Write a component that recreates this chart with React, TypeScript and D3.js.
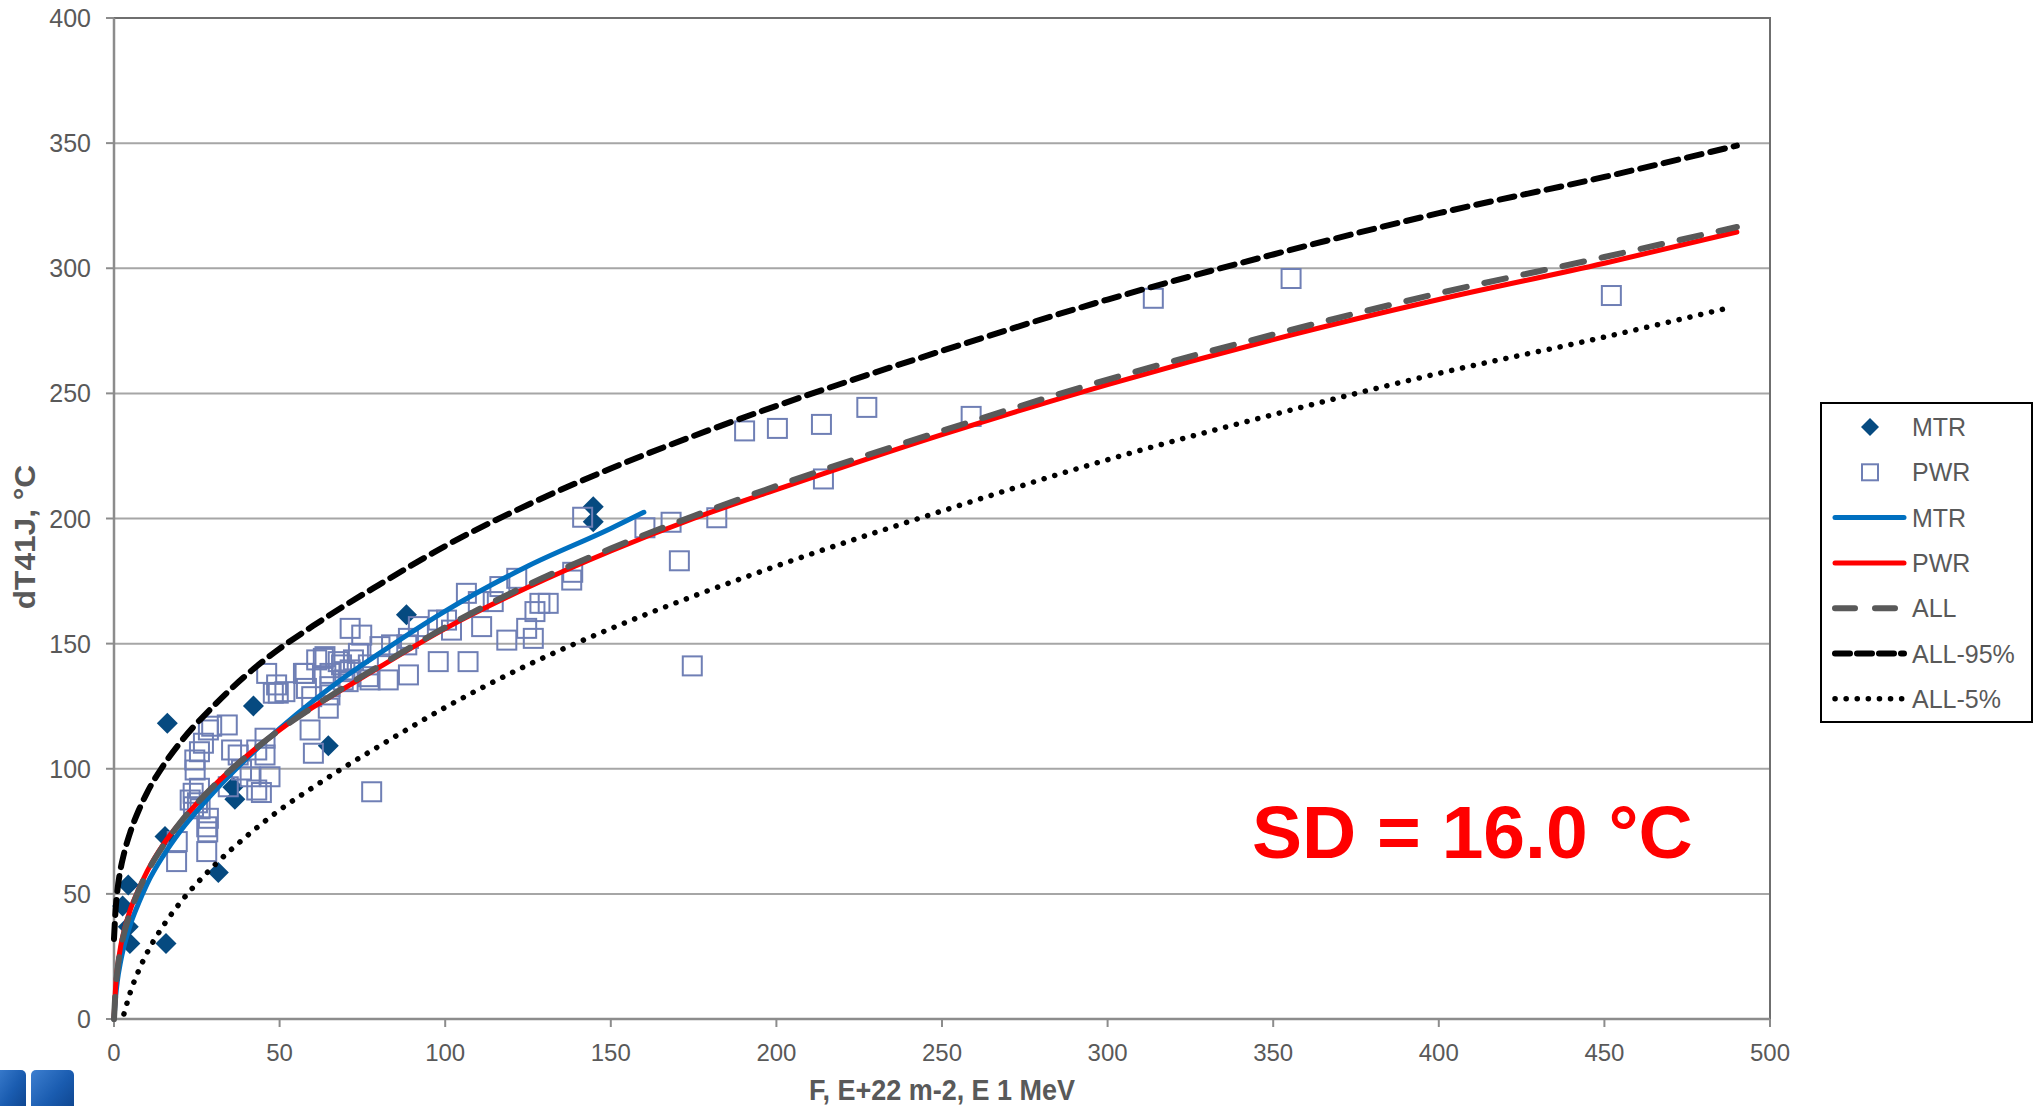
import React from 'react';
import * as d3 from 'd3';

const xTicks = [0, 50, 100, 150, 200, 250, 300, 350, 400, 450, 500];
const yTicks = [0, 50, 100, 150, 200, 250, 300, 350, 400];

// MTR measurements (F, dT41J)
const mtrData: [number, number][] = [
  [2.6, 45.2], [4.3, 53.5], [4.3, 36.9], [4.8, 30.2], [15.4, 72.9], [15.7, 30.2],
  [16.1, 118.2], [31.5, 58.5], [35.9, 92.6], [36.5, 87.8], [42.1, 125.1], [64.7, 109.2],
  [88.3, 161.5], [144.7, 204.7], [144.7, 198.7],
];

// PWR measurements (F, dT41J)
const pwrData: [number, number][] = [
  [19.1, 70.9], [18.9, 62.9], [28.5, 115.5], [34.2, 117.5], [29.5, 117.0], [25.8, 106.8],
  [24.5, 99.5], [25.8, 92.2], [25.2, 86.4], [26.0, 84.0], [28.5, 80.2], [28.0, 76.8],
  [28.3, 74.8], [28.0, 66.9], [35.5, 107.5], [37.5, 105.5], [43.1, 107.5], [45.6, 112.2],
  [45.6, 105.5], [38.5, 99.5], [41.1, 96.8], [47.1, 96.8], [43.1, 91.5], [44.5, 90.5],
  [34.5, 92.8], [23.0, 87.5], [24.0, 84.8], [24.4, 103.5], [27.0, 110.2], [23.9, 90.2],
  [46.1, 138.1], [48.1, 130.2], [49.6, 130.2], [51.6, 130.8], [57.2, 138.1], [63.2, 144.1],
  [68.7, 141.5], [71.3, 156.1], [74.8, 153.4], [65.2, 138.1], [67.7, 142.8], [69.7, 138.8],
  [65.2, 132.8], [70.7, 134.8], [73.8, 146.1], [76.8, 141.5], [76.8, 136.8], [82.8, 135.5],
  [88.9, 137.5], [80.3, 148.8], [83.8, 149.5], [88.4, 149.5], [88.9, 152.1], [91.9, 156.8],
  [97.9, 159.4], [100.4, 159.4], [101.9, 155.4], [97.9, 142.8], [106.9, 142.8], [106.4, 170.1],
  [110.0, 166.8], [111.0, 156.8], [114.5, 166.8], [116.5, 172.8], [121.6, 176.1], [118.6, 151.4],
  [124.6, 156.1], [126.6, 152.1], [127.1, 162.8], [128.6, 166.1], [131.1, 166.1], [138.2, 175.4],
  [138.5, 178.5], [59.2, 115.5], [60.2, 106.2], [64.7, 124.2], [59.7, 128.8], [65.2, 129.5],
  [77.8, 90.8], [49.1, 133.5], [63.7, 144.8], [72.3, 143.5], [71.3, 139.5], [57.7, 138.1],
  [77.3, 135.5], [69.2, 135.5], [58.1, 132.1], [61.2, 143.5],
  [141.5, 200.5], [160.3, 196.3], [168.2, 198.5], [170.7, 183.1], [182.0, 200.3], [174.6, 141.1],
  [214.2, 215.8], [190.4, 235.0], [200.3, 236.0], [213.6, 237.6], [227.3, 244.4], [258.8, 240.8],
  [313.8, 288.0], [355.4, 295.9], [452.1, 289.1],
];

// fitted trends
const fitF = [0, 0.5, 1, 2, 3, 5, 7.5, 10, 15, 20, 30, 40, 50, 60, 70, 80, 100, 125, 150, 175, 200, 250, 300, 350, 400, 450, 490];
const allFit = [0, 12, 19, 28, 34, 43, 51.5, 58.5, 69.5, 78.5, 93, 105, 115.5, 124.5, 133, 141, 156.5, 173.5, 188, 201, 213, 235, 255.5, 273.5, 290, 304.5, 316.5];
const pwrFit = [0, 13, 20, 29, 35, 44, 52, 59, 70, 78.5, 93, 105, 115.5, 124.5, 132.5, 140.5, 156, 172.5, 187, 200, 211.5, 233.5, 253.5, 271.5, 287.5, 302, 314.5];
const all95Fit = [32, 44, 51, 60, 66, 75, 83.5, 90.5, 101.5, 110.5, 125, 137.5, 148, 157, 165.5, 173.5, 189, 205.5, 220, 233, 245, 267, 287.5, 305.5, 322, 336.5, 349];

const mtrFitF = [0, 0.5, 1, 2, 3, 5, 7.5, 10, 15, 20, 30, 40, 50, 60, 70, 80, 100, 125, 150, 160];
const mtrFit = [0, 9, 15, 23, 29, 38, 46.5, 54, 65.5, 75, 90.5, 104, 116, 127, 137, 146, 163, 181, 196, 202.5];

const all5F = [3, 5, 7.5, 10, 15, 20, 30, 40, 50, 60, 70, 80, 100, 125, 150, 175, 200, 250, 300, 350, 400, 450, 487];
const all5Fit = [2, 11, 19.5, 26.5, 37.5, 46.5, 61, 73, 83.5, 92.5, 101, 109, 124.5, 141.5, 156, 169, 181, 203, 223.5, 241.5, 258, 272.5, 284];

const FONT = '"Liberation Sans", Arial, sans-serif';
const TEXT = '#595959';

const styles = {
  mtrLine: { stroke: '#0070C0', width: 5, dash: undefined as string | undefined },
  pwrLine: { stroke: '#FF0000', width: 5, dash: undefined as string | undefined },
  all: { stroke: '#595959', width: 6, dash: '22 18' },
  all95: { stroke: '#000000', width: 6, dash: '15 9' },
  all5: { stroke: '#000000', width: 5.5, dash: '0.1 11' },
};

const legendItems = [
  { label: 'MTR', kind: 'diamond' },
  { label: 'PWR', kind: 'square' },
  { label: 'MTR', kind: 'mtrLine' },
  { label: 'PWR', kind: 'pwrLine' },
  { label: 'ALL', kind: 'all' },
  { label: 'ALL-95%', kind: 'all95' },
  { label: 'ALL-5%', kind: 'all5' },
];

const diamond = (cx: number, cy: number, r: number) =>
  `M${cx},${cy - r}L${cx + r},${cy}L${cx},${cy + r}L${cx - r},${cy}Z`;

export default function App() {
  const width = 2041;
  const height = 1106;
  const plot = { left: 114, right: 1770, top: 18, bottom: 1019 };

  const x = d3.scaleLinear().domain([0, 500]).range([plot.left, plot.right]);
  const y = d3.scaleLinear().domain([0, 400]).range([plot.bottom, plot.top]);

  const line = d3
    .line<[number, number]>()
    .x(d => x(d[0]))
    .y(d => y(d[1]))
    .curve(d3.curveMonotoneX);

  const zip = (fs: number[], vs: number[]) => fs.map((f, i) => [f, vs[i]] as [number, number]);

  const curves = [
    { key: 'mtrLine', d: line(zip(mtrFitF, mtrFit)) },
    { key: 'pwrLine', d: line(zip(fitF, pwrFit)) },
    { key: 'all', d: line(zip(fitF, allFit)) },
    { key: 'all95', d: line(zip(fitF, all95Fit)) },
    { key: 'all5', d: line(zip(all5F, all5Fit)) },
  ];

  const sq = 19;
  const legend = { x: 1821, y: 403, w: 211, h: 319, row0: 427, step: 45.3 };

  return (
    <svg
      width={width}
      height={height}
      viewBox={`0 0 ${width} ${height}`}
      style={{ position: 'absolute', left: 0, top: 0, background: '#fff' }}
      fontFamily={FONT}
    >
      <defs>
        <linearGradient id="logoGrad" x1="0" y1="0" x2="1" y2="1">
          <stop offset="0" stopColor="#3d7fd0" />
          <stop offset="0.5" stopColor="#1a5cb0" />
          <stop offset="1" stopColor="#0b3f86" />
        </linearGradient>
      </defs>
      <rect width={width} height={height} fill="#fff" />

      {/* gridlines */}
      {yTicks.map(t => (
        <line key={`g${t}`} x1={plot.left} x2={plot.right} y1={y(t)} y2={y(t)} stroke="#a6a6a6" strokeWidth={2} />
      ))}
      <rect
        x={plot.left}
        y={plot.top}
        width={plot.right - plot.left}
        height={plot.bottom - plot.top}
        fill="none"
        stroke="#6f6f6f"
        strokeWidth={2}
      />

      {/* axes */}
      <line x1={plot.left} x2={plot.left} y1={plot.top} y2={plot.bottom} stroke="#8c8c8c" strokeWidth={2.5} />
      <line x1={plot.left} x2={plot.right} y1={plot.bottom} y2={plot.bottom} stroke="#8c8c8c" strokeWidth={2.5} />
      {yTicks.map(t => (
        <g key={`yt${t}`}>
          <line x1={plot.left - 8} x2={plot.left} y1={y(t)} y2={y(t)} stroke="#8c8c8c" strokeWidth={2} />
          <text x={91} y={y(t) + 9} textAnchor="end" fontSize={25} fill={TEXT}>
            {t}
          </text>
        </g>
      ))}
      {xTicks.map(t => (
        <g key={`xt${t}`}>
          <line x1={x(t)} x2={x(t)} y1={plot.bottom} y2={plot.bottom + 8} stroke="#8c8c8c" strokeWidth={2} />
          <text x={x(t)} y={1061} textAnchor="middle" fontSize={24} fill={TEXT}>
            {t}
          </text>
        </g>
      ))}

      <text
        transform="translate(35,537) rotate(-90) scale(1.09,1)"
        textAnchor="middle"
        fontSize={29}
        fontWeight="bold"
        fill={TEXT}
      >
        dT41J, °C
      </text>
      <text
        transform="translate(942,1100) scale(0.9,1)"
        textAnchor="middle"
        fontSize={30}
        fontWeight="bold"
        fill={TEXT}
      >
        F, E+22 m-2, E 1 MeV
      </text>

      {/* scatter */}
      {mtrData.map((d, i) => (
        <path key={`m${i}`} d={diamond(x(d[0]), y(d[1]), 10.5)} fill="#064A80" />
      ))}
      {pwrData.map((d, i) => (
        <rect
          key={`p${i}`}
          x={x(d[0]) - sq / 2}
          y={y(d[1]) - sq / 2}
          width={sq}
          height={sq}
          fill="none"
          stroke="#6f7fb5"
          strokeWidth={2}
        />
      ))}

      {/* fitted curves */}
      {curves.map(c => {
        const s = styles[c.key as keyof typeof styles];
        return (
          <path
            key={c.key}
            d={c.d || ''}
            fill="none"
            stroke={s.stroke}
            strokeWidth={s.width}
            strokeDasharray={s.dash}
            strokeLinecap="round"
          />
        );
      })}

      <text x={1252} y={858} fontSize={75} fontWeight="bold" fill="#FF0000">
        SD = 16.0 °C
      </text>

      {/* legend */}
      <rect x={legend.x} y={legend.y} width={legend.w} height={legend.h} fill="#fff" stroke="#000" strokeWidth={2} />
      {legendItems.map((it, i) => {
        const cy = legend.row0 + i * legend.step;
        let mark: React.ReactNode = null;
        if (it.kind === 'diamond') mark = <path d={diamond(1870, cy, 9)} fill="#064A80" />;
        else if (it.kind === 'square')
          mark = <rect x={1862} y={cy - 8} width={16} height={16} fill="none" stroke="#6f7fb5" strokeWidth={2} />;
        else {
          const s = styles[it.kind as keyof typeof styles];
          mark = (
            <line
              x1={1835}
              x2={1904}
              y1={cy}
              y2={cy}
              stroke={s.stroke}
              strokeWidth={s.width}
              strokeDasharray={it.kind === 'all' ? '20 20' : it.kind === 'all95' ? '15 7' : s.dash}
              strokeLinecap="round"
            />
          );
        }
        return (
          <g key={`l${i}`}>
            {mark}
            <text x={1912} y={cy + 9} fontSize={25} fill={TEXT}>
              {it.label}
            </text>
          </g>
        );
      })}

      {/* logo fragment */}
      <rect x={-6} y={1070} width={32} height={50} rx={5} fill="url(#logoGrad)" />
      <rect x={31} y={1070} width={43} height={50} rx={5} fill="url(#logoGrad)" />
    </svg>
  );
}
